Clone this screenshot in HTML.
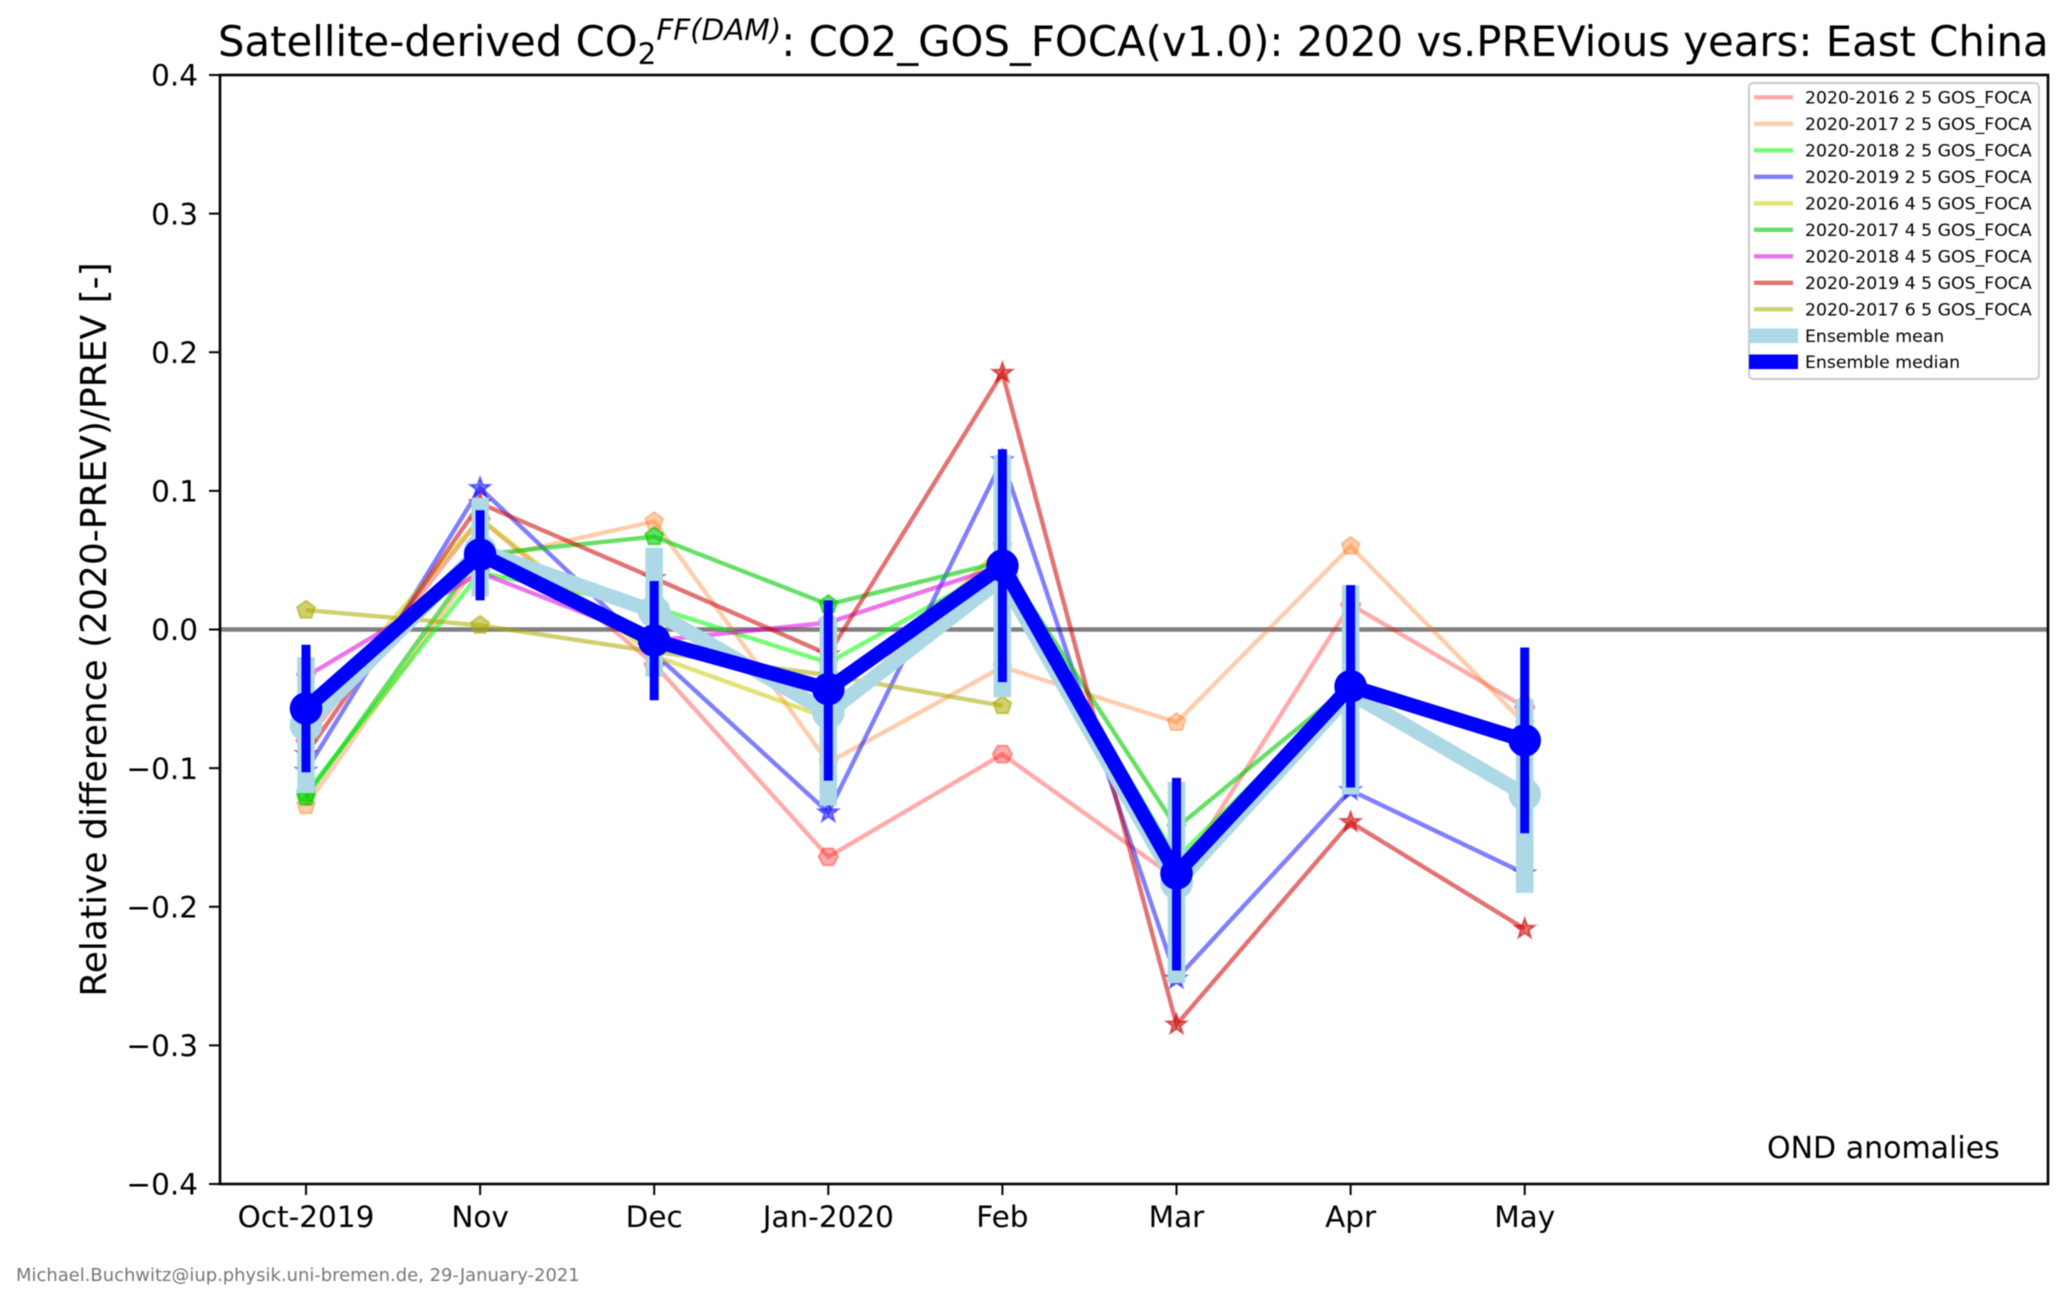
<!DOCTYPE html>
<html lang="en">
<head>
<meta charset="utf-8">
<title>Satellite-derived CO2 FF(DAM): East China</title>
<style>
html,body{margin:0;padding:0;background:#fff;}
svg{display:block;font-family:"DejaVu Sans","Liberation Sans",sans-serif;filter:blur(0.55px);}
</style>
</head>
<body>
<svg id="chart" xmlns="http://www.w3.org/2000/svg" width="2067" height="1302" viewBox="0 0 2067 1302">
  <rect x="0" y="0" width="2067" height="1302" fill="#ffffff"/>
  <text x="218" y="56" font-size="41.8" fill="#000">Satellite-derived CO<tspan font-size="29.4" dy="8">2</tspan><tspan font-size="29.4" font-style="italic" dy="-24">FF(DAM)</tspan><tspan dy="16">: CO2_GOS_FOCA(v1.0): 2020 vs.PREVious years: East China</tspan></text>
  <text transform="translate(106 629.5) rotate(-90)" text-anchor="middle" font-size="36" fill="#000">Relative difference (2020-PREV)/PREV [-]</text>
  <text x="1767" y="1158" font-size="30" fill="#000">OND anomalies</text>
  <text x="16" y="1281" font-size="17.95" fill="#777">Michael.Buchwitz@iup.physik.uni-bremen.de, 29-January-2021</text>
  <g id="ticks"></g>
  <line x1="220" y1="629.5" x2="2048" y2="629.5" stroke="#808080" stroke-width="4.5"/>
  <g id="marks"></g>
  <rect x="220" y="75" width="1828" height="1109" fill="none" stroke="#000" stroke-width="2.6"/>
  <g id="legend"></g>
</svg>
<script>
// ---- chart data ----
const months = ["Oct-2019", "Nov", "Dec", "Jan-2020", "Feb", "Mar", "Apr", "May"];
const yTickValues = [0.4, 0.3, 0.2, 0.1, 0.0, -0.1, -0.2, -0.3, -0.4];
const seriesNames = [
  "2020-2016 2 5 GOS_FOCA", "2020-2017 2 5 GOS_FOCA", "2020-2018 2 5 GOS_FOCA",
  "2020-2019 2 5 GOS_FOCA", "2020-2016 4 5 GOS_FOCA", "2020-2017 4 5 GOS_FOCA",
  "2020-2018 4 5 GOS_FOCA", "2020-2019 4 5 GOS_FOCA", "2020-2017 6 5 GOS_FOCA"
];
const values2016a = [-0.080, 0.080, -0.025, -0.164, -0.090, -0.180, 0.018, -0.056];
const values2017a = [-0.127, 0.050, 0.078, -0.096, -0.027, -0.067, 0.060, -0.068];
const values2018a = [-0.118, 0.041, 0.016, -0.024, 0.046, -0.165, -0.042, null];
const values2019a = [-0.102, 0.102, -0.017, -0.132, 0.122, -0.252, -0.116, -0.176];
const values2016b = [-0.065, 0.080, -0.019, -0.064, 0.060, null, null, null];
const values2017b = [-0.121, 0.054, 0.067, 0.018, 0.049, -0.143, -0.040, null];
const values2018b = [-0.034, 0.041, -0.008, 0.005, 0.046, null, null, null];
const values2019b = [-0.090, 0.091, 0.037, -0.018, 0.185, -0.285, -0.139, -0.216];
const values2017c = [0.014, 0.003, -0.016, -0.033, -0.055, null, null, null];
const meanValues = [-0.069, 0.057, 0.013, -0.060, 0.037, -0.183, -0.046, -0.119];
const meanLower = [-0.118, 0.024, -0.034, -0.127, -0.049, -0.255, -0.119, -0.190];
const meanUpper = [-0.020, 0.095, 0.059, 0.009, 0.126, -0.110, 0.032, -0.050];
const medianValues = [-0.057, 0.054, -0.008, -0.043, 0.046, -0.176, -0.041, -0.080];
const medianLower = [-0.103, 0.021, -0.051, -0.109, -0.038, -0.246, -0.114, -0.147];
const medianUpper = [-0.011, 0.086, 0.035, 0.021, 0.130, -0.107, 0.032, -0.013];

const allSeries = [values2016a, values2017a, values2018a, values2019a, values2016b, values2017b, values2018b, values2019b, values2017c];

// ---- styling (separate from data) ----
const seriesColors = ["#ff0000", "#ff6600", "#00ff00", "#0000ff", "#cccc00", "#00cc00", "#dd00dd", "#cc0000", "#aaaa00"];
const seriesAlphas = [0.33, 0.33, 0.55, 0.5, 0.55, 0.6, 0.55, 0.55, 0.55];
const seriesShapes = ["hexagon", "pentagon", "pentagon", "star", "pentagon", "pentagon", "pentagon", "star", "pentagon"];

// ---- axis functions ----
function xPos(i) { return 220 + (i + 0.494) * 174.1; }
function yPos(v) { return 629.5 - v * 1386.25; }

const NS = "http://www.w3.org/2000/svg";
function make(tag, parent, attrs) {
  const el = document.createElementNS(NS, tag);
  for (const k in attrs) el.setAttribute(k, attrs[k]);
  parent.appendChild(el);
  return el;
}
function shapePoints(shape, cx, cy) {
  const pts = [];
  if (shape === "hexagon") {
    for (let k = 0; k < 6; k++) {
      const a = Math.PI / 3 * k;
      pts.push((cx + 9.8 * Math.cos(a)).toFixed(1) + "," + (cy + 9.8 * Math.sin(a)).toFixed(1));
    }
  } else if (shape === "pentagon") {
    for (let k = 0; k < 5; k++) {
      const a = -Math.PI / 2 + 2 * Math.PI / 5 * k;
      pts.push((cx + 9.4 * Math.cos(a)).toFixed(1) + "," + (cy + 9.4 * Math.sin(a)).toFixed(1));
    }
  } else {
    for (let k = 0; k < 10; k++) {
      const a = -Math.PI / 2 + Math.PI / 5 * k;
      const r = k % 2 ? 4.2 : 10.4;
      pts.push((cx + r * Math.cos(a)).toFixed(1) + "," + (cy + r * Math.sin(a)).toFixed(1));
    }
  }
  return pts.join(" ");
}
function linePoints(vals) {
  const pts = [];
  vals.forEach(function (v, i) {
    if (v !== null) pts.push(xPos(i).toFixed(1) + "," + yPos(v).toFixed(1));
  });
  return pts.join(" ");
}

// ---- ticks ----
const ticksG = document.getElementById("ticks");
yTickValues.forEach(function (v) {
  const y = yPos(v);
  const tick = make("line", ticksG, { x1: 209, x2: 220, y1: y, y2: y, stroke: "#000", "stroke-width": 2 });
  
  
  const label = make("text", ticksG, { x: 198, y: y + 10.7, "text-anchor": "end", "font-size": 29.5, fill: "#000" });
  
  
  label.textContent = (v < 0 ? "\u2212" : "") + Math.abs(v).toFixed(1);
});
months.forEach(function (m, i) {
  const x = xPos(i);
  const tick = make("line", ticksG, { x1: x, x2: x, y1: 1184, y2: 1195, stroke: "#000", "stroke-width": 2 });
  
  
  const label = make("text", ticksG, { x: x, y: 1227, "text-anchor": "middle", "font-size": 29.5, fill: "#000" });
  
  
  label.textContent = m;
});

// ---- series ----
const marksG = document.getElementById("marks");
allSeries.forEach(function (vals, s) {
  const group = make("g", marksG, {});
  
  
  const line = make("polyline", group, {
    points: linePoints(vals), fill: "none", stroke: seriesColors[s],
    "stroke-opacity": seriesAlphas[s], "stroke-width": 4.4, "stroke-linejoin": "miter"
  });
  
  
  vals.forEach(function (v, i) {
    if (v === null) return;
    const marker = make("polygon", group, {
      points: shapePoints(seriesShapes[s], xPos(i), yPos(v)),
      fill: seriesColors[s], "fill-opacity": seriesAlphas[s],
      stroke: seriesColors[s], "stroke-opacity": seriesAlphas[s], "stroke-width": 2
    });
    
    
  });
});

// ---- ensemble mean ----
const meanG = make("g", marksG, {});


const meanLine = make("polyline", meanG, {
  points: linePoints(meanValues), fill: "none", stroke: "#add8e6", "stroke-width": 14.6, "stroke-linejoin": "round"
});


meanValues.forEach(function (v, i) {
  const bar = make("line", meanG, {
    x1: xPos(i), x2: xPos(i), y1: yPos(meanLower[i]), y2: yPos(meanUpper[i]),
    stroke: "#add8e6", "stroke-width": 17.6
  });
  
  
  const dot = make("circle", meanG, { cx: xPos(i), cy: yPos(v), r: 16.3, fill: "#add8e6" });
  
  
});

// ---- ensemble median ----
const medianG = make("g", marksG, {});


const medianLine = make("polyline", medianG, {
  points: linePoints(medianValues), fill: "none", stroke: "#0000ff", "stroke-width": 14.6, "stroke-linejoin": "round"
});


medianValues.forEach(function (v, i) {
  const bar = make("line", medianG, {
    x1: xPos(i), x2: xPos(i), y1: yPos(medianLower[i]), y2: yPos(medianUpper[i]),
    stroke: "#0000ff", "stroke-width": 9
  });
  
  
  const dot = make("circle", medianG, { cx: xPos(i), cy: yPos(v), r: 16.3, fill: "#0000ff" });
  
  
});

// ---- legend ----
const legendG = document.getElementById("legend");
const legendBox = make("rect", legendG, { x: 1749, y: 83, width: 290, height: 296, rx: 4, ry: 4, fill: "#fff", "fill-opacity": 0.85, stroke: "#cccccc", "stroke-width": 2 });


function legendRowY(r) { return 97.3 + r * 26.5; }
seriesNames.forEach(function (name, s) {
  const y = legendRowY(s);
  const handle = make("line", legendG, { x1: 1754, x2: 1793, y1: y, y2: y, stroke: seriesColors[s], "stroke-opacity": seriesAlphas[s], "stroke-width": 4.4 });
  
  
  const label = make("text", legendG, { x: 1805, y: y + 6.3, "font-size": 17.3, fill: "#000" });
  
  
  label.textContent = name;
});
const meanHandle = make("rect", legendG, { x: 1749, y: legendRowY(9) - 7.3, width: 49, height: 14.6, fill: "#add8e6" });


const meanLabel = make("text", legendG, { x: 1805, y: legendRowY(9) + 6.3, "font-size": 17.3, fill: "#000" });


meanLabel.textContent = "Ensemble mean";
const medianHandle = make("rect", legendG, { x: 1749, y: legendRowY(10) - 7.8, width: 49, height: 14.6, fill: "#0000ff" });


const medianLabel = make("text", legendG, { x: 1805, y: legendRowY(10) + 5.8, "font-size": 17.3, fill: "#000" });


medianLabel.textContent = "Ensemble median";
</script>
</body>
</html>
